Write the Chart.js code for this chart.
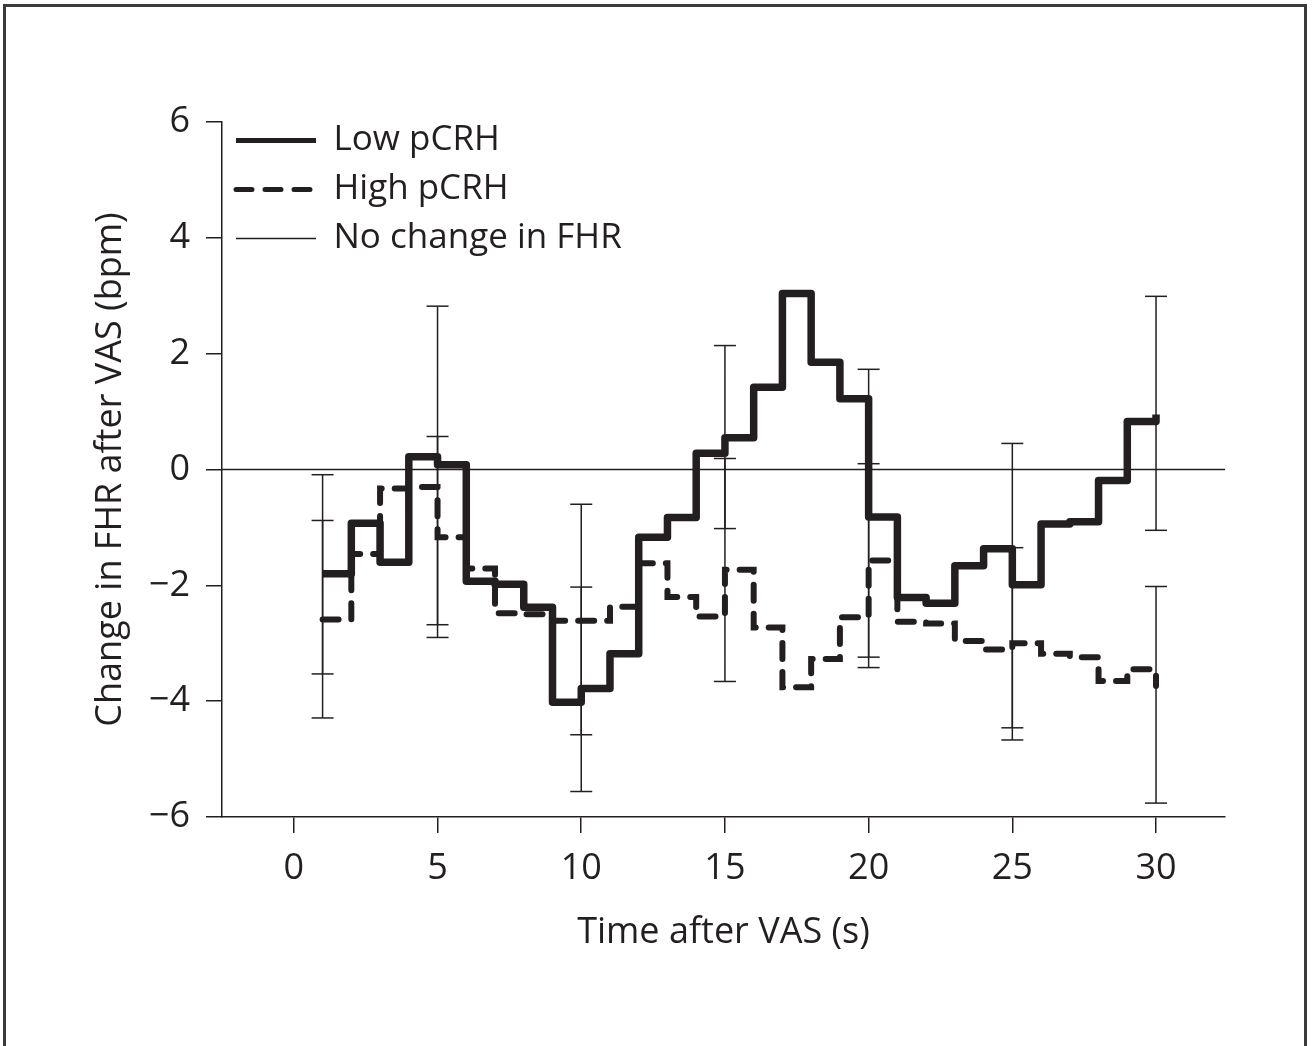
<!DOCTYPE html>
<html>
<head>
<meta charset="utf-8">
<title>Change in FHR after VAS</title>
<script src="https://cdn.jsdelivr.net/npm/chart.js@4.4.1/dist/chart.umd.min.js"></script>
<style>
  html, body { margin: 0; padding: 0; background: #fff; overflow: hidden; }
  #frame { position: absolute; left: 3px; top: 4px; width: 1304px; height: 1100px; border: 3px solid #3a3a3a; box-sizing: border-box; }
  #wrap { position: absolute; left: 0; top: 0; width: 1313px; height: 1046px; }
</style>
</head>
<body>
<div id="frame"></div>
<div id="wrap"><canvas id="fhrChart" width="1313" height="1046"></canvas></div>
<script>
// seconds after VAS, one step per second
const seconds = [1, 2, 3, 4, 5, 6, 7, 8, 9, 10, 11, 12, 13, 14, 15,
  16, 17, 18, 19, 20, 21, 22, 23, 24, 25, 26, 27, 28, 29, 30];

// mean change in FHR (bpm)
const lowPCRH = [-1.80, -0.93, -1.60, 0.22, 0.08, -1.93, -1.98, -2.38, -4.02, -3.78,
  -3.18, -1.17, -0.83, 0.28, 0.55, 1.42, 3.04, 1.85, 1.22, -0.82,
  -2.21, -2.31, -1.66, -1.37, -1.99, -0.94, -0.90, -0.19, 0.83, 0.95];
const highPCRH = [-2.59, -1.46, -0.33, -0.30, -1.17, -1.71, -2.48, -2.50, -2.61, -2.61,
  -2.37, -1.62, -2.20, -2.54, -1.73, -2.73, -3.76, -3.27, -2.55, -1.57,
  -2.63, -2.66, -2.96, -3.11, -3.00, -3.18, -3.24, -3.65, -3.45, -3.74];

// error bars (upper / lower ends)
const errX = [1, 5, 10, 15, 20, 25, 30];
const lowUpper = [-0.09, 2.82, -2.03, 2.14, 1.73, 0.45, 2.99];
const lowLower = [-3.53, -2.68, -5.56, -1.02, -3.42, -4.46, -1.05];
const highUpper = [-0.88, 0.57, -0.60, 0.19, 0.10, -1.35, -2.02];
const highLower = [-4.29, -2.90, -4.58, -3.66, -3.24, -4.67, -5.76];

const xTicks = [0, 5, 10, 15, 20, 25, 30];
const yTicks = [-6, -4, -2, 0, 2, 4, 6];
const xMin = -2.5, xMax = 32.4;
const yMin = -6, yMax = 6;

const INK = "#231f20";
Chart.defaults.font.family = "'Open Sans', 'Noto Sans', sans-serif";
Chart.defaults.font.size = 36;
Chart.defaults.color = INK;

function steps(vals) {
  return seconds.map((s, i) => ({ x: s, y: vals[i] }));
}

// vertical segments separated by null gaps
function errorBars(upper, lower) {
  const pts = [];
  errX.forEach((x, i) => {
    pts.push({ x: x, y: upper[i] }, { x: x, y: lower[i] }, { x: x, y: null });
  });
  return pts;
}

// legend sits inside the plot, pull it up to the top edge
const legendNudge = {
  id: "legendNudge",
  afterLayout(chart) {
    chart.legend.top = chart.chartArea.top - 13;
  },
};

const errStyle = {
  borderColor: INK,
  borderWidth: 1.5,
  pointStyle: "line",
  pointRadius: 11,
  pointBorderWidth: 1.5,
  pointBorderColor: INK,
  spanGaps: false,
};

new Chart(document.getElementById("fhrChart").getContext("2d"), {
  type: "line",
  data: {
    datasets: [
      {
        label: "Low pCRH",
        data: steps(lowPCRH),
        borderColor: INK,
        borderWidth: 7.5,
        stepped: "before",
        borderJoinStyle: "round",
        pointRadius: 0,
      },
      {
        label: "High pCRH",
        data: steps(highPCRH),
        borderColor: INK,
        borderWidth: 6,
        borderDash: [16, 13],
        borderCapStyle: "round",
        stepped: "before",
        pointRadius: 0,
      },
      {
        label: "No change in FHR",
        data: [{ x: xMin, y: 0 }, { x: xMax, y: 0 }],
        borderColor: INK,
        borderWidth: 1.5,
        pointRadius: 0,
      },
      Object.assign({ label: "err low", data: errorBars(lowUpper, lowLower) }, errStyle),
      Object.assign({ label: "err high", data: errorBars(highUpper, highLower) }, errStyle),
    ],
  },
  options: {
    responsive: false,
    animation: false,
    events: [],
    layout: { padding: { top: 122, right: 88, bottom: 0, left: 0 } },
    plugins: {
      tooltip: { enabled: false },
      legend: {
        position: "chartArea",
        align: "start",
        labels: {
          usePointStyle: true,
          pointStyle: "line",
          pointStyleWidth: 80,
          padding: 14,
          color: INK,
          font: { size: 35 },
          filter: (item) => item.datasetIndex < 3,
          // point-style legend drops the dash, so copy it back from the dataset
          generateLabels: (chart) =>
            Chart.defaults.plugins.legend.labels.generateLabels(chart).map((l) => {
              const ds = chart.data.datasets[l.datasetIndex];
              l.lineWidth = Math.min(ds.borderWidth, 5);
              l.lineDash = ds.borderDash || [];
              l.lineCap = ds.borderCapStyle || "butt";
              return l;
            }),
        },
      },
    },
    scales: {
      x: {
        type: "linear",
        min: xMin,
        max: xMax,
        afterBuildTicks: (s) => { s.ticks = xTicks.map((v) => ({ value: v })); },
        afterFit: (s) => { s.height = 229; },
        grid: { drawOnChartArea: false, tickLength: 16, color: INK, lineWidth: 1.5 },
        border: { color: INK, width: 1.5 },
        ticks: { padding: 14, color: INK },
        title: { display: true, text: "Time after VAS (s)", color: INK, padding: { top: 0, bottom: 92 } },
      },
      y: {
        min: yMin,
        max: yMax,
        afterBuildTicks: (s) => { s.ticks = yTicks.map((v) => ({ value: v })); },
        afterFit: (s) => { s.width = 222; },
        grid: { drawOnChartArea: false, tickLength: 16, color: INK, lineWidth: 1.5 },
        border: { color: INK, width: 1.5 },
        ticks: { padding: 16, color: INK, callback: (v) => String(v).replace("-", "\u2212") },
        title: { display: true, text: "Change in FHR after VAS (bpm)", color: INK, padding: { top: 89, bottom: 0 } },
      },
    },
  },
  plugins: [legendNudge],
});
</script>
</body>
</html>
